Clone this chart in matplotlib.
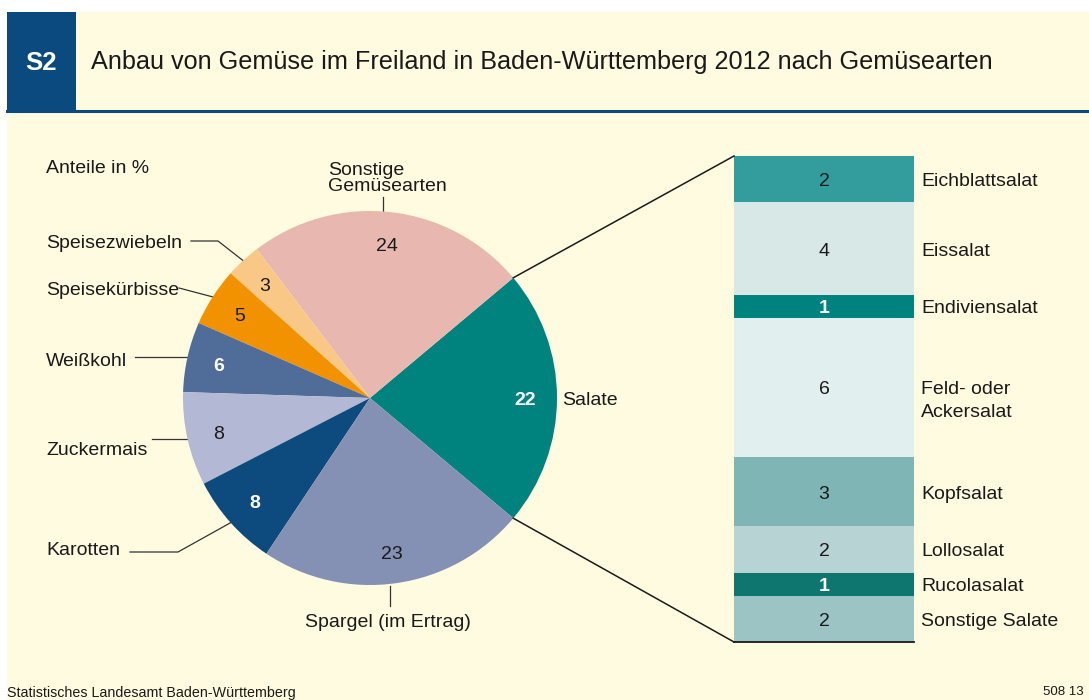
import numpy as np
import matplotlib

matplotlib.use("Agg")
import matplotlib.pyplot as plt
from matplotlib.patches import Rectangle

plt.rcParams["font.family"] = ["Liberation Sans", "DejaVu Sans"]

# --- data -------------------------------------------------------------------
pie_names = ["Salate", "Sonstige\nGemüsearten", "Speisezwiebeln", "Speisekürbisse",
             "Weißkohl", "Zuckermais", "Karotten", "Spargel (im Ertrag)"]
pie_values = [22, 24, 3, 5, 6, 8, 8, 23]
pie_colors = ["#00827F", "#E8B8B0", "#F9C887", "#F39200",
              "#506C99", "#B3B8D4", "#0D4A7E", "#8490B4"]
pie_white = [True, False, False, False, True, False, True, False]

salad_names = ["Eichblattsalat", "Eissalat", "Endiviensalat", "Feld- oder\nAckersalat",
               "Kopfsalat", "Lollosalat", "Rucolasalat", "Sonstige Salate"]
salad_values = [2, 4, 1, 6, 3, 2, 1, 2]
salad_colors = ["#339C9C", "#D7E8E6", "#00827F", "#E1EFEE",
                "#7FB5B5", "#B7D3D3", "#0F766F", "#9CC4C4"]
salad_white = [False, False, True, False, False, False, True, False]

BG = "#FFFBE0"
BLUE = "#0A4A7E"
INK = "#1A1A1A"
FS = 14
DY = 2.5  # text nudge (va="center" sits a little high)

fig = plt.figure(figsize=(10.89, 7.0), dpi=100)
fig.patch.set_facecolor("white")
ax = fig.add_axes([0, 0, 1, 1])

# pie in pixel coordinates (y downward)
cx, cy, r = 370, 398, 187
wedges, _ = ax.pie(pie_values, colors=pie_colors, startangle=40, counterclock=False,
                   center=(cx, cy), radius=r, wedgeprops=dict(edgecolor="none"),
                   frame=True)
for w in wedges:
    w.set_zorder(3)

ax.set_xlim(0, 1089)
ax.set_ylim(700, 0)
ax.set_aspect("equal")
ax.axis("off")

# backgrounds / header
ax.add_patch(Rectangle((7, 12), 1082, 688, fc=BG, ec="none", zorder=0))
ax.add_patch(Rectangle((7, 12), 69, 98, fc=BLUE, ec="none", zorder=1))
ax.plot([7, 1089], [110.5, 110.5], color=BLUE, lw=2.2, zorder=1)
ax.text(41, 61 + DY, "S2", color="white", fontsize=18.5, fontweight="bold",
        ha="center", va="center")
ax.text(91, 60 + DY, "Anbau von Gemüse im Freiland in Baden-Württemberg 2012 nach Gemüsearten",
        color=INK, fontsize=18.2, ha="left", va="center")

ax.text(46, 166 + DY, "Anteile in %", fontsize=FS, color=INK, ha="left", va="center")


def mid(w):
    return np.deg2rad((w.theta1 + w.theta2) / 2)


def edge_pt(w, frac=1.0):
    a = mid(w)
    return cx + frac * r * np.cos(a), cy + frac * r * np.sin(a)


# value labels inside the wedges
for w, v, white in zip(wedges, pie_values, pie_white):
    x, y = edge_pt(w, 0.83)
    ax.text(x, y + DY, str(v), fontsize=FS, ha="center", va="center", zorder=5,
            color="white" if white else INK, fontweight="bold" if white else "normal")

# outside labels with leader lines: (text x, text y, line start x, elbow x)
lab = {
    2: (46, 241, 191, 218),
    3: (46, 288, 179, 179),
    4: (46, 359, 135, None),
    5: (46, 448, 152, None),
    6: (46, 548, 130, 178),
}
for i, (tx, ty, lx0, elbow) in lab.items():
    ax.text(tx, ty + DY, pie_names[i], fontsize=FS, color=INK, ha="left", va="center")
    ex, ey = edge_pt(wedges[i])
    if elbow is None:
        xs, ys = [lx0, ex], [ey, ey]
    else:
        xs, ys = [lx0, elbow, ex], [ty + (4 if i == 6 else 0)] * 2 + [ey]
    ax.plot(xs, ys, color="#333333", lw=0.9, zorder=2)

# Sonstige (top)
ex, ey = edge_pt(wedges[1])
ax.text(328, 176 + DY, pie_names[1], fontsize=FS, color=INK, ha="left", va="center",
        linespacing=0.95)
ax.plot([ex - 8, ex - 8], [197, ey - 1], color="#333333", lw=0.9)
# Spargel (bottom)
ex, ey = edge_pt(wedges[7])
ax.text(388, 620 + DY, pie_names[7], fontsize=FS, color=INK, ha="center", va="center")
ax.plot([ex - 7, ex - 7], [ey + 3, 606], color="#333333", lw=0.9)
# Salate (right)
ax.text(562, 398 + DY, pie_names[0], fontsize=FS, color=INK, ha="left", va="center")

# stacked salad column
bx0, bx1, btop, bbot = 734, 914, 156, 642
unit = (bbot - btop) / sum(salad_values)
tops = btop + unit * np.concatenate([[0], np.cumsum(salad_values)[:-1]])
heights = unit * np.array(salad_values)
ax.bar((bx0 + bx1) / 2, heights, bottom=tops, width=bx1 - bx0,
       color=salad_colors, edgecolor="none", zorder=3)
for t, h, v, n, white in zip(tops, heights, salad_values, salad_names, salad_white):
    yc = t + h / 2 + DY
    ax.text((bx0 + bx1) / 2, yc, str(v), fontsize=FS, ha="center", va="center",
            color="white" if white else INK, fontweight="bold" if white else "normal",
            zorder=5)
    extra = 11 * n.count("\n")  # multi-line labels start on the segment centre
    ax.text(921, yc + extra, n, fontsize=FS, ha="left", va="center", color=INK,
            linespacing=1.45)
ax.plot([bx0, bx1], [bbot, bbot], color=INK, lw=1.3, zorder=4)

# connector lines from the Salate wedge to the column (y axis points down)
for ang, by in ((min(wedges[0].theta1, wedges[0].theta2), btop),
                (max(wedges[0].theta1, wedges[0].theta2), bbot)):
    a = np.deg2rad(ang)
    ax.plot([cx + r * np.cos(a), bx0], [cy + r * np.sin(a), by], color=INK, lw=1.1,
            zorder=4)

# footer
ax.text(7, 692 + 1, "Statistisches Landesamt Baden-Württemberg", fontsize=10.3, color=INK,
        ha="left", va="center")
ax.text(1084, 691 + 1, "508 13", fontsize=9.5, color=INK, ha="right", va="center")

fig.savefig("out.png", dpi=100, facecolor="white")
